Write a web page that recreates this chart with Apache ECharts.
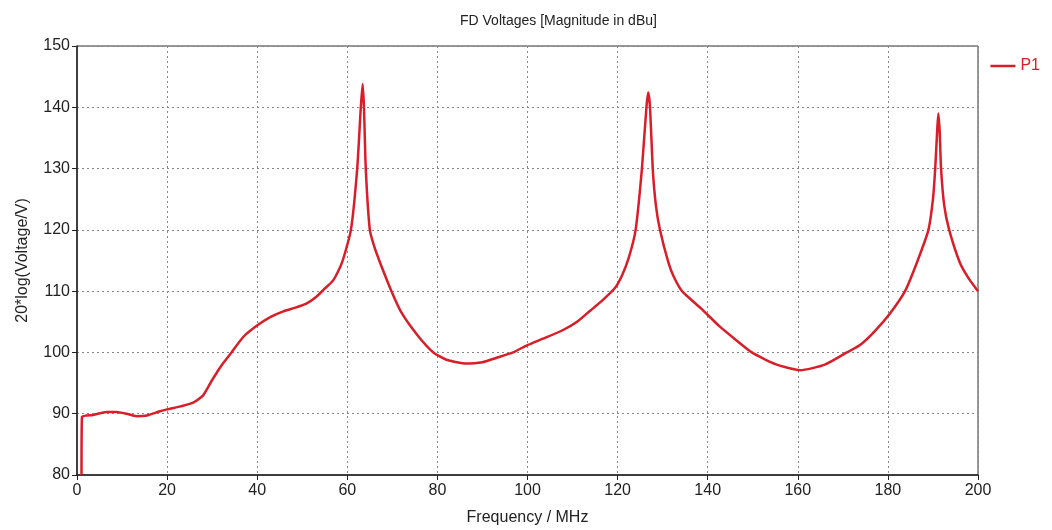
<!DOCTYPE html>
<html>
<head>
<meta charset="utf-8">
<script src="https://cdn.jsdelivr.net/npm/echarts@6/dist/echarts.min.js"></script>
<style>
  html, body { margin: 0; padding: 0; background: #fff; }
  #chart { width: 1052px; height: 530px; }
</style>
</head>
<body>
<div id="chart"></div>
<script>
// frequency (MHz) and magnitude (dBu)
const freqs = [1.0, 1.1, 2, 3.6, 6.6, 8.8, 11, 13.2, 15.5, 18.4, 20.6, 23, 25.8, 28, 30, 32, 34.3, 37, 40.2,
  43, 45.8, 48.5, 51, 53, 54.7, 56.9, 58.8, 60.8, 62.2, 63.0, 63.4, 63.7, 64.1, 65, 66.1, 67.3, 69.8,
  72.1, 75.8, 79.1, 82, 86, 90, 93, 96.8, 100, 104, 108, 111, 113.9, 116.5, 119.4, 121, 122.5, 124, 125.4,
  126.4, 126.8, 127.2, 127.8, 128.5, 129.4, 131.3, 132.5, 134.3, 138.5, 142.7, 146, 149.8, 155, 160.5, 166,
  170.9, 173.8, 177, 180.5, 183.8, 186.4, 189, 190, 190.5, 191.0, 191.2, 191.5, 191.8, 192.5, 193.6,
  196, 198, 200];
const volts = [80, 89.5, 89.7, 89.8, 90.3, 90.3, 90.0, 89.6, 89.7, 90.4, 90.8, 91.2, 91.8, 93.0, 95.5, 97.8, 100, 102.6, 104.5,
  105.8, 106.7, 107.3, 108.0, 109, 110.2, 111.8, 114.6, 120, 130, 140, 143.8, 140, 130, 120, 117, 114.6, 110,
  106.4, 102.6, 100, 98.8, 98.2, 98.4, 99.1, 100, 101.2, 102.4, 103.7, 105.0, 106.8, 108.4, 110.5, 112.6, 115.5, 120, 130,
  140, 142.4, 140, 130, 124, 120, 114.6, 112.3, 110, 107.2, 104.2, 102.2, 100, 98.1, 97.1, 98,
  100, 101.2, 103.4, 106.4, 110, 114.6, 120, 125, 130, 137, 139, 136, 130, 124, 120,
  114.6, 112, 110];
const seriesName = 'P1';
const lineColor = '#d81e28';

const chart = echarts.init(document.getElementById('chart'));
const font = 'Liberation Sans';
chart.setOption({
  animation: false,
  title: {
    text: 'FD Voltages [Magnitude in dBu]',
    left: 455, top: 9,
    textStyle: { fontFamily: font, fontSize: 14, fontWeight: 'normal', color: '#222' }
  },
  legend: {
    data: [seriesName],
    right: 7, top: 53,
    icon: 'rect', itemWidth: 25, itemHeight: 2.5, itemGap: 6,
    textStyle: { fontFamily: font, fontSize: 16, color: lineColor }
  },
  grid: {
    left: 77, right: 74, top: 46, bottom: 55,
    outerBoundsMode: 'none',
    show: true, borderColor: '#333', borderWidth: 1
  },
  xAxis: {
    type: 'value', min: 0, max: 200, interval: 20,
    name: 'Frequency / MHz', nameLocation: 'middle', nameGap: 35,
    nameTextStyle: { fontFamily: font, fontSize: 16, color: '#222' },
    axisLine: { show: true, lineStyle: { color: '#222', width: 1.5 } },
    axisTick: { show: true, length: 5, lineStyle: { color: '#222' } },
    axisLabel: { fontFamily: font, fontSize: 16, color: '#222', margin: 8 },
    splitLine: { show: true, lineStyle: { color: '#888', type: [2, 3], width: 1 } }
  },
  yAxis: {
    type: 'value', min: 80, max: 150, interval: 10,
    name: '20*log(Voltage/V)', nameLocation: 'middle', nameGap: 46,
    nameTextStyle: { fontFamily: font, fontSize: 16, color: '#222' },
    axisLine: { show: true, lineStyle: { color: '#222', width: 1.5 } },
    axisTick: { show: true, length: 5, lineStyle: { color: '#222' } },
    axisLabel: { fontFamily: font, fontSize: 16, color: '#222', margin: 7 },
    splitLine: { show: true, lineStyle: { color: '#888', type: [2, 3], width: 1 } }
  },
  series: [{
    name: seriesName,
    type: 'line',
    data: freqs.map((f, i) => [f, volts[i]]),
    showSymbol: false,
    symbol: 'none',
    smooth: 0.2,
    lineStyle: { color: lineColor, width: 2.5 },
    itemStyle: { color: lineColor }
  }]
});
</script>
</body>
</html>
